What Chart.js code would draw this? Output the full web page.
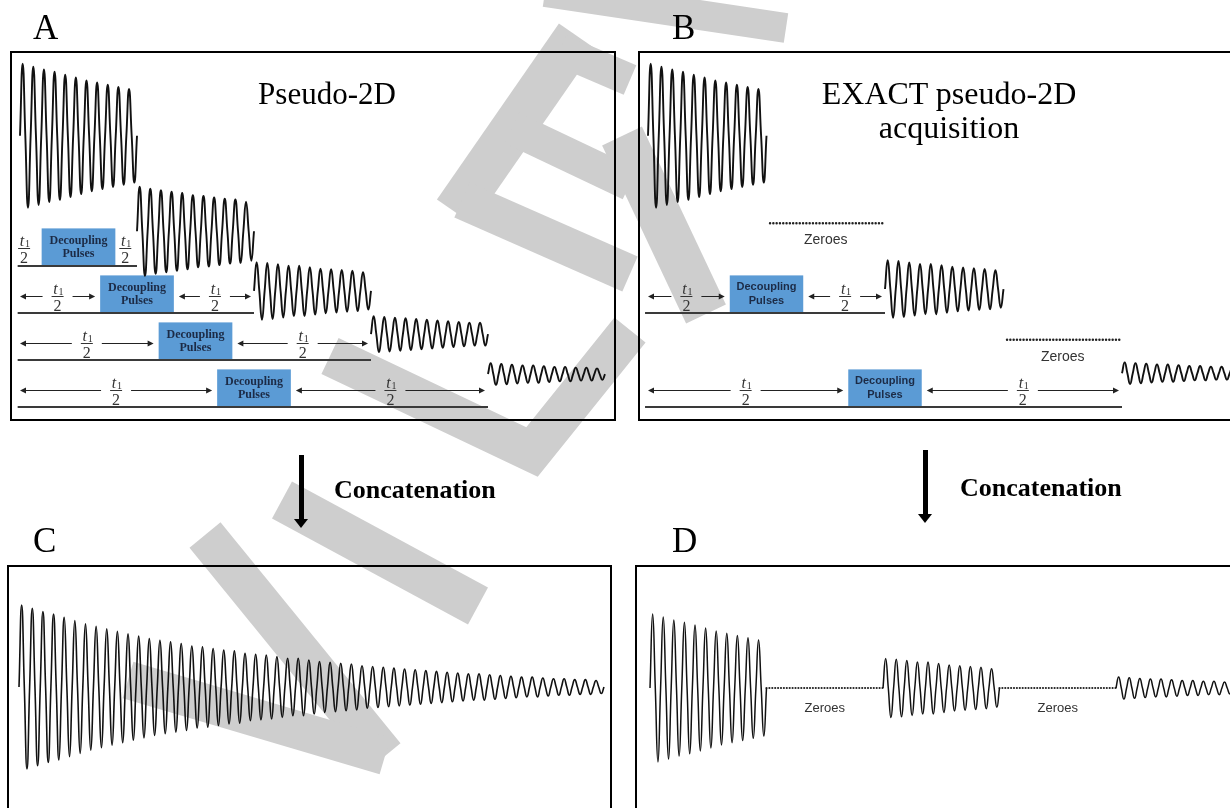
<!DOCTYPE html>
<html>
<head>
<meta charset="utf-8">
<title>Pseudo-2D vs EXACT pseudo-2D acquisition</title>
<script src="https://cdn.jsdelivr.net/npm/chart.js@4.4.1/dist/chart.umd.min.js"></script>
<style>
  html, body { margin: 0; padding: 0; background: #fff; }
  body { position: relative; width: 1230px; height: 808px; overflow: hidden;
         font-family: "Liberation Serif", "Times New Roman", serif; color: #000; }
  #wm { position: absolute; left: 0; top: 0; z-index: 0; }
  .panel { position: absolute; box-sizing: border-box; border: 2px solid #000; z-index: 1; }
  .panel canvas { position: absolute; left: 0; top: 0; }
  .txt { position: absolute; white-space: nowrap; line-height: 1; z-index: 2; }
  .tag { font-size: 35px; }
  .title { text-align: center; }
  .concat { font-size: 26px; font-weight: bold; }
  .shaft { position: absolute; width: 5px; background: #000; z-index: 2; }
  .head { position: absolute; width: 0; height: 0; z-index: 2;
          border-left: 7px solid transparent; border-right: 7px solid transparent; border-top: 9px solid #000; }
</style>
</head>
<body>
<canvas id="wm" width="1230" height="808"></canvas>

<div class="panel" id="panelA"><canvas id="chartA"></canvas></div>
<div class="panel" id="panelB"><canvas id="chartB"></canvas></div>
<div class="panel" id="panelC"><canvas id="chartC"></canvas></div>
<div class="panel" id="panelD"><canvas id="chartD"></canvas></div>

<div class="txt tag" style="left:33px;top:10px">A</div>
<div class="txt tag" style="left:672px;top:10px">B</div>
<div class="txt tag" style="left:33px;top:523px">C</div>
<div class="txt tag" style="left:672px;top:523px">D</div>

<div class="txt title" style="left:227px;top:78px;width:200px;font-size:31px">Pseudo-2D</div>
<div class="txt title" style="left:799px;top:77px;width:300px;font-size:32px">EXACT pseudo-2D</div>
<div class="txt title" style="left:799px;top:111px;width:300px;font-size:32px">acquisition</div>

<div class="shaft" style="left:299px;top:455px;height:66px"></div>
<div class="head" style="left:294px;top:519px"></div>
<div class="txt concat" style="left:334px;top:477px">Concatenation</div>

<div class="shaft" style="left:923px;top:450px;height:66px"></div>
<div class="head" style="left:918px;top:514px"></div>
<div class="txt concat" style="left:960px;top:475px">Concatenation</div>

<script>
// peak height of each FID cycle (first peak = 1)
const fidPeaks = [1.00, 0.96, 0.92, 0.89, 0.85, 0.81, 0.77, 0.74, 0.71, 0.68, 0.65,
                  0.62, 0.59, 0.57, 0.55, 0.53, 0.50, 0.49, 0.47, 0.45, 0.44, 0.41,
                  0.40, 0.39, 0.37, 0.35, 0.35, 0.33, 0.31, 0.30, 0.29, 0.28, 0.26,
                  0.25, 0.24, 0.23, 0.22, 0.21, 0.20, 0.19, 0.18, 0.17, 0.16, 0.16,
                  0.15, 0.14, 0.13, 0.12, 0.12, 0.11, 0.10, 0.10, 0.09, 0.09, 0.08];
const cyclesPerBlock = 11;          // cycles in one acquired chunk
const pseudoRows = [0, 1, 2, 3, 4]; // t1 increments, panel A
const exactRows = [0, 2, 4];        // increments kept in panel B
const zeroBlocks = [1, 3];          // chunks replaced by zeroes
const pulseLabel = ['Decoupling', 'Pulses'];
const zeroLabel = 'Zeroes';

// page layout of each panel: frame box, time axis origin/scale, row axis origin/scale
const panels = {
    A: { frame: [10, 51, 606, 370], x0: 20, xUnit: 117, y0: 219, yUnit: 47, amp: 72 / 47,
         boxW: 0.63, waveRow: [-1.77, 0.26, 1.53, 2.45, 3.30],
         boxFont: 'bold 12px "Liberation Serif"', lineGap: 6.5 },
    B: { frame: [638, 51, 620, 370], x0: 648, xUnit: 118.5, y0: 219, yUnit: 47, amp: 72 / 47,
         boxW: 0.62, waveRow: [-1.77, 1.49, 3.28], zeroRow: [0.09, 2.57],
         boxFont: 'bold 11px "Liberation Sans"', lineGap: 7 },
    C: { frame: [7, 565, 605, 300], x0: 19, xUnit: 117, y0: 687, yUnit: 82, amp: 1 },
    D: { frame: [635, 565, 620, 300], x0: 650, xUnit: 116.5, y0: 688, yUnit: 74, amp: 1 }
};

const boxH = 0.8;
const arrowLift = 0.36;

function waveSet(fromBlock, nBlocks, tStart, row, amp, width) {
    const peaks = fidPeaks.slice(fromBlock * cyclesPerBlock, (fromBlock + nBlocks) * cyclesPerBlock);
    const q = 1 / (4 * cyclesPerBlock);
    const pts = [];
    peaks.forEach((a, i) => {
        const t = tStart + i / cyclesPerBlock;
        pts.push({ x: t, y: row }, { x: t + q, y: row - a * amp },
                 { x: t + 2 * q, y: row }, { x: t + 3 * q, y: row + a * amp });
    });
    pts.push({ x: tStart + peaks.length / cyclesPerBlock, y: row });
    return { data: pts, borderColor: '#111', borderWidth: width, pointRadius: 0,
             tension: 0.5, fill: false };
}

function lineSet(t1, t2, row, dotted, width) {
    const ds = { data: [{ x: t1, y: row }, { x: t2, y: row }], borderColor: dotted ? '#222' : '#3a3a3a',
                 borderWidth: width, pointRadius: 0, fill: false };
    if (dotted) {
        ds.borderDash = [0, dotted];
        ds.borderCapStyle = 'round';
    }
    return ds;
}

// boxes, t1/2 arrows for one pulse-sequence panel
function sequenceSpec(rows, p) {
    const boxes = [], spans = [], halves = [];
    rows.filter(k => k > 0).forEach(k => {
        const bl = k / 2 - p.boxW / 2, br = k / 2 + p.boxW / 2;
        boxes.push({ l: bl, r: br, row: k });
        if (k === 1) {
            halves.push({ t: 0.035, row: k - 0.38 }, { t: 0.9, row: k - 0.38 });
        } else {
            const g = 5 / p.xUnit;
            spans.push({ a: 0, b: bl - g, row: k - arrowLift },
                       { a: br + g, b: k - 3 / p.xUnit, row: k - arrowLift });
        }
    });
    return { boxes, spans, halves };
}

function drawHalf(ctx, x, y) {
    ctx.fillStyle = '#333';
    ctx.textAlign = 'center';
    ctx.textBaseline = 'alphabetic';
    ctx.font = 'italic 16px "Liberation Serif"';
    ctx.fillText('t', x - 2, y - 2.5);
    ctx.font = '10px "Liberation Serif"';
    ctx.fillText('1', x + 3.5, y - 1.5);
    ctx.fillRect(x - 6, y - 0.5, 12, 1);
    ctx.font = '16px "Liberation Serif"';
    ctx.fillText('2', x, y + 14);
}

function arrowHead(ctx, x, y, dir) {
    ctx.beginPath();
    ctx.moveTo(x, y);
    ctx.lineTo(x - dir * 6, y - 3);
    ctx.lineTo(x - dir * 6, y + 3);
    ctx.closePath();
    ctx.fill();
}

function diagramPlugin(p, spec) {
    return {
        id: 'diagram',
        beforeDatasetsDraw(chart) {
            const { ctx, scales: { x, y } } = chart;
            ctx.save();
            ctx.fillStyle = '#5b9bd5';
            (spec.boxes || []).forEach(b => {
                const l = x.getPixelForValue(b.l), r = x.getPixelForValue(b.r);
                const top = y.getPixelForValue(b.row - boxH), bot = y.getPixelForValue(b.row);
                ctx.fillRect(l, top, r - l, bot - top);
            });
            ctx.restore();
        },
        afterDatasetsDraw(chart) {
            const { ctx, scales: { x, y } } = chart;
            ctx.save();
            (spec.boxes || []).forEach(b => {
                const cx = (x.getPixelForValue(b.l) + x.getPixelForValue(b.r)) / 2;
                const cy = (y.getPixelForValue(b.row - boxH) + y.getPixelForValue(b.row)) / 2;
                ctx.fillStyle = '#1c2b46';
                ctx.font = p.boxFont;
                ctx.textAlign = 'center';
                ctx.textBaseline = 'middle';
                ctx.fillText(pulseLabel[0], cx, cy - p.lineGap);
                ctx.fillText(pulseLabel[1], cx, cy + p.lineGap);
            });
            ctx.strokeStyle = '#222';
            ctx.fillStyle = '#222';
            ctx.lineWidth = 1;
            (spec.spans || []).forEach(s => {
                const a = x.getPixelForValue(s.a), b = x.getPixelForValue(s.b);
                const yy = Math.round(y.getPixelForValue(s.row)) + 0.5;
                const mid = (a + b) / 2, gap = 15;
                ctx.beginPath();
                ctx.moveTo(a + 4, yy); ctx.lineTo(mid - gap, yy);
                ctx.moveTo(mid + gap, yy); ctx.lineTo(b - 4, yy);
                ctx.stroke();
                ctx.fillStyle = '#222';
                arrowHead(ctx, a, yy, -1);
                arrowHead(ctx, b, yy, 1);
                drawHalf(ctx, mid, yy);
            });
            (spec.halves || []).forEach(h => {
                drawHalf(ctx, x.getPixelForValue(h.t), Math.round(y.getPixelForValue(h.row)) + 0.5);
            });
            (spec.zeroes || []).forEach(z => {
                ctx.fillStyle = '#333';
                ctx.font = z.font;
                ctx.textAlign = 'center';
                ctx.textBaseline = 'middle';
                ctx.fillText(zeroLabel, x.getPixelForValue(z.t), y.getPixelForValue(z.row) + z.dy);
            });
            ctx.restore();
        }
    };
}

function buildPanel(id, datasets, spec) {
    const p = panels[id];
    const [left, top, w, h] = p.frame;
    const box = document.getElementById('panel' + id);
    box.style.left = left + 'px';
    box.style.top = top + 'px';
    box.style.width = w + 'px';
    box.style.height = h + 'px';
    const cw = w - 4, ch = h - 4;
    const canvas = document.getElementById('chart' + id);
    canvas.width = cw;
    canvas.height = ch;
    canvas.style.width = cw + 'px';
    canvas.style.height = ch + 'px';
    return new Chart(canvas, {
        type: 'line',
        data: { datasets },
        options: {
            responsive: false,
            animation: false,
            events: [],
            layout: { padding: 0 },
            plugins: { legend: { display: false }, tooltip: { enabled: false } },
            scales: {
                x: { type: 'linear', display: false,
                     min: (left + 2 - p.x0) / p.xUnit, max: (left + 2 + cw - p.x0) / p.xUnit },
                y: { type: 'linear', display: false, reverse: true,
                     min: (top + 2 - p.y0) / p.yUnit, max: (top + 2 + ch - p.y0) / p.yUnit }
            }
        },
        plugins: [diagramPlugin(p, spec)]
    });
}

// light grey watermark strokes lying under the figure
function drawWatermark() {
    const ctx = document.getElementById('wm').getContext('2d');
    const strokes = [
        [44, [455, 212], [577, 36]],
        [38, [462, 200], [630, 274]],
        [34, [512, 128], [630, 184]],
        [32, [560, 50], [630, 80]],
        [40, [330, 356], [532, 452], [630, 330]],
        [42, [282, 500], [478, 606]],
        [40, [205, 535], [385, 756]],
        [38, [128, 680], [385, 756]],
        [44, [622, 136], [706, 314]],
        [30, [545, -8], [786, 28]]
    ];
    ctx.strokeStyle = '#cecece';
    ctx.lineJoin = 'miter';
    strokes.forEach(([w, ...pts]) => {
        ctx.lineWidth = w;
        ctx.beginPath();
        pts.forEach(([px, py], i) => (i ? ctx.lineTo(px, py) : ctx.moveTo(px, py)));
        ctx.stroke();
    });
}

drawWatermark();

// A: pseudo-2D, one row per t1 increment
const pa = panels.A;
const setsA = [];
pseudoRows.forEach(k => {
    if (k > 0) setsA.push(lineSet(-0.02, k, k, 0, 2));
    setsA.push(waveSet(k, 1, k, pa.waveRow[k], pa.amp, 1.9));
});
buildPanel('A', setsA, sequenceSpec(pseudoRows, pa));

// B: EXACT acquisition, chunks between kept increments are zeroes
const pb = panels.B;
const setsB = [];
exactRows.forEach((k, i) => {
    if (k > 0) setsB.push(lineSet(-0.025, k, k, 0, 2));
    setsB.push(waveSet(k, 1, k, pb.waveRow[i], pb.amp, 1.9));
});
zeroBlocks.forEach((blk, i) => setsB.push(lineSet(blk + 0.03, blk + 0.99, pb.zeroRow[i], 3.3, 2.5)));
const specB = sequenceSpec(exactRows, pb);
specB.zeroes = zeroBlocks.map((blk, i) => ({ t: blk + 0.5, row: pb.zeroRow[i], dy: 17,
                                             font: '14px "Liberation Sans"' }));
buildPanel('B', setsB, specB);

// C: concatenated pseudo-2D FID
buildPanel('C', [waveSet(0, pseudoRows.length, 0, 0, panels.C.amp, 1.6)], {});

// D: concatenated EXACT FID with zero-filled gaps
const pd = panels.D;
const setsD = exactRows.map(k => waveSet(k, 1, k, 0, pd.amp, 1.5));
zeroBlocks.forEach(blk => setsD.push(lineSet(blk, blk + 1, 0, 2.9, 2.2)));
buildPanel('D', setsD, {
    zeroes: zeroBlocks.map(blk => ({ t: blk + 0.5, row: 0, dy: 20, font: '13px "Liberation Sans"' }))
});
</script>
</body>
</html>
